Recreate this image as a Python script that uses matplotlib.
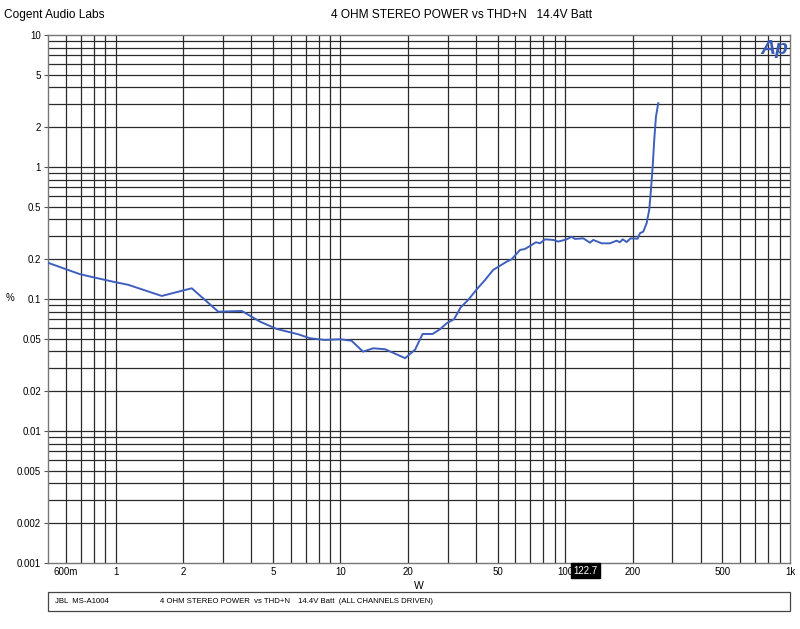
import matplotlib.pyplot as plt
from matplotlib.ticker import FixedLocator, NullFormatter
from matplotlib.patches import Rectangle

plt.rcParams['font.family'] = ['Liberation Sans', 'DejaVu Sans']

# THD+N vs output power
power_w = [0.5, 0.694, 0.795, 0.976, 1.138, 1.603, 2.18, 2.86, 3.64, 4.39,
           5.20, 6.49, 7.32, 8.53, 9.95, 11.2, 12.6, 14.0, 15.8, 19.4,
           21.5, 23.2, 25.7, 27.7, 29.7, 32.0, 34.3, 37.0, 40.4, 44.0,
           47.8, 54.9, 57.8, 62.9, 66.2, 74.1, 77.2, 81.3, 88.5, 93.1,
           101.5, 106.8, 110.5, 120.3, 128.8, 133.3, 145.2, 158.1, 169.3, 175.2,
           180.1, 187.6, 195.4, 210.0, 215.0, 222.4, 230.2, 236.4, 240.6, 244.9,
           248.9, 253.3, 259.4]
thd_pct = [0.188, 0.154, 0.146, 0.135, 0.128, 0.1054, 0.1205, 0.0801, 0.0811, 0.0673,
           0.0593, 0.0540, 0.0504, 0.0489, 0.0495, 0.0483, 0.0399, 0.0423, 0.0416, 0.0356,
           0.0414, 0.0543, 0.0543, 0.0589, 0.0655, 0.0702, 0.0865, 0.0983, 0.1184, 0.1393,
           0.166, 0.1917, 0.200, 0.235, 0.239, 0.269, 0.264, 0.283, 0.280, 0.272,
           0.283, 0.296, 0.285, 0.288, 0.267, 0.280, 0.264, 0.264, 0.2765, 0.269,
           0.283, 0.270, 0.288, 0.286, 0.315, 0.3236, 0.3745, 0.472, 0.670, 1.005,
           1.60, 2.405, 3.04]

x_ticks = [0.6, 1, 2, 5, 10, 20, 50, 100, 200, 500, 1000]
x_labels = ['600m', '1', '2', '5', '10', '20', '50', '100', '200', '500', '1k']
y_ticks = [10, 5, 2, 1, 0.5, 0.2, 0.1, 0.05, 0.02, 0.01, 0.005, 0.002, 0.001]
y_labels = ['10', '5', '2', '1', '0.5', '0.2', '0.1', '0.05', '0.02', '0.01',
            '0.005', '0.002', '0.001']
cursor_w = 122.7

fig = plt.figure(figsize=(8, 6.29), dpi=100)
ax = fig.add_axes([0.06, 0.105, 0.9275, 0.8394])

ax.set_xscale('log')
ax.set_yscale('log')
ax.set_xlim(0.5, 1000)
ax.set_ylim(0.001, 10)

# full grid on every 1..9 step of each decade
grid_x = [m * 10.0 ** e for e in range(-1, 3) for m in range(1, 10)]
grid_x = [v for v in grid_x if 0.5 < v < 1000]
grid_y = [m * 10.0 ** e for e in range(-3, 1) for m in range(1, 10)]
grid_y = [v for v in grid_y if 0.001 < v < 10]
for v in grid_x:
    ax.axvline(v, color='#2a2a2a', lw=0.9, zorder=1)
for v in grid_y:
    ax.axhline(v, color='#2a2a2a', lw=0.9, zorder=1)

ax.plot(power_w, thd_pct, color='#3f5fbf', lw=1.4, zorder=3)

ax.xaxis.set_major_locator(FixedLocator(x_ticks))
ax.set_xticklabels(x_labels)
ax.xaxis.set_minor_locator(FixedLocator([]))
ax.xaxis.set_minor_formatter(NullFormatter())
ax.yaxis.set_major_locator(FixedLocator(y_ticks))
ax.set_yticklabels(y_labels)
ax.yaxis.set_minor_locator(FixedLocator([]))
ax.yaxis.set_minor_formatter(NullFormatter())
ax.tick_params(axis='both', labelsize=7, length=3, color='#555555', pad=2)
ax.tick_params(axis='x', length=0, pad=3)

for s in ax.spines.values():
    s.set_color('#777777')
    s.set_linewidth(1.0)

ax.set_xlabel('W', fontsize=7.5, labelpad=3)
fig.text(10 / 800, 1 - 298 / 629, '%', fontsize=7, ha='center', va='center')

fig.text(4 / 800, 1 - 15 / 629, 'Cogent Audio Labs', fontsize=8.6,
         ha='left', va='center')
fig.text(331 / 800, 1 - 15 / 629, '4 OHM STEREO POWER vs THD+N   14.4V Batt',
         fontsize=8.6, ha='left', va='center')

# Ap logo
ax.text(0.998, 0.993, 'Ap', transform=ax.transAxes, fontsize=15,
        fontweight='bold', fontstyle='italic', color='#3a5cb8',
        ha='right', va='top', zorder=5)

# cursor readout
ax.text(cursor_w, 0.00095, '122.7', fontsize=7, color='white', ha='center',
        va='top', zorder=6,
        bbox=dict(boxstyle='square,pad=0.25', fc='black', ec='black'))

# bottom info box
fig.patches.append(Rectangle((48 / 800, 1 - 611 / 629), 742 / 800, 19 / 629,
                             transform=fig.transFigure, fill=False,
                             ec='#444444', lw=0.9))
fy = 1 - 601.5 / 629
fig.text(55 / 800, fy, 'JBL  MS-A1004', fontsize=5.6, va='center')
fig.text(160 / 800, fy, '4 OHM STEREO POWER  vs THD+N', fontsize=5.6, va='center')
fig.text(298 / 800, fy, '14.4V Batt  (ALL CHANNELS DRIVEN)', fontsize=5.6,
         va='center')

fig.savefig('out.png', dpi=100)
